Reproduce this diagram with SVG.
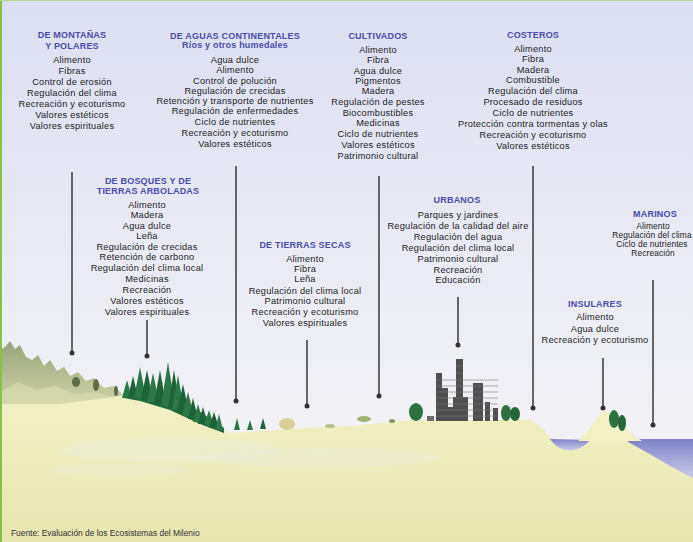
<svg xmlns="http://www.w3.org/2000/svg" width="693" height="542" viewBox="0 0 693 542">
  <defs>
    <linearGradient id="sky" x1="0" y1="0" x2="0" y2="1">
      <stop offset="0" stop-color="#dcdff1"/>
      <stop offset="0.75" stop-color="#f1f1f6"/>
      <stop offset="1" stop-color="#f5f5f6"/>
    </linearGradient>
    <linearGradient id="ground" x1="0" y1="0" x2="0" y2="1">
      <stop offset="0" stop-color="#f3f1c4"/>
      <stop offset="1" stop-color="#e7e6b0"/>
    </linearGradient>
    <linearGradient id="mount" x1="0" y1="0" x2="0" y2="1">
      <stop offset="0" stop-color="#97a37a"/>
      <stop offset="1" stop-color="#d3d6a8"/>
    </linearGradient>
    <linearGradient id="sea" x1="0" y1="0" x2="0" y2="1">
      <stop offset="0" stop-color="#7f82c8"/>
      <stop offset="1" stop-color="#c9cbe8"/>
    </linearGradient>
    <marker id="dot" markerWidth="6" markerHeight="6" refX="3" refY="3" markerUnits="userSpaceOnUse">
      <circle cx="3" cy="3" r="2.5" fill="#333"/>
    </marker>
    <style>
      text { font-family: "Liberation Sans", Arial, sans-serif; text-anchor: middle; }
      .t { font-size: 9px; font-weight: bold; fill: #4b4ca8; letter-spacing: 0.2px; }
      .s { font-size: 9px; font-weight: bold; fill: #4b4ca8; letter-spacing: 0.2px; }
      .i { font-size: 9.2px; fill: #1c1c1c; letter-spacing: 0.25px; }
      .m { font-size: 8.4px; fill: #1c1c1c; letter-spacing: 0.1px; }
      .cap { font-size: 8.4px; fill: #333; text-anchor: start; }
      .link { stroke: #383838; stroke-width: 1.5; fill: none; marker-end: url(#dot); }
      .pine { fill: #2b7748; }
      .pine2 { fill: #1d6238; }
      .bld { fill: #4f4f4f; }
    </style>
  </defs>

  <!-- sky -->
  <rect x="0" y="0" width="693" height="542" fill="url(#sky)"/>

  <!-- landscape -->
  <g id="landscape">
    <path d="M0,400 L0,350 L5,347 L10,341 L15,349 L20,345 L26,357 L32,360 L38,355 L44,366 L50,360 L57,371 L64,367 L70,376 L78,372 L86,381 L94,378 L104,388 L114,386 L124,396 L132,404 L0,408 Z" fill="url(#mount)"/>
    <path d="M0,408 L0,392 L18,382 L36,390 L55,386 L75,394 L95,392 L115,398 L132,404 L120,412 L0,414 Z" fill="#d6d9ad" opacity="0.8"/>
    <ellipse cx="76" cy="382" rx="4" ry="5" fill="#5f6c48"/>
    <ellipse cx="96" cy="385" rx="3" ry="6" fill="#5f6c48"/>
    <ellipse cx="116" cy="391" rx="2" ry="5" fill="#5f6c48"/>

    <path d="M0,404 L60,404 L120,396 C135,390 150,392 165,400 C185,410 205,425 232,433 C260,431 300,428 350,426 C375,424 395,421 410,420 L530,420 C540,424 546,432 553,440 L693,440 L693,542 L0,542 Z" fill="url(#ground)"/>
    <!-- pale reflections on the plain -->
    <ellipse cx="170" cy="450" rx="110" ry="12" fill="#e9eedc" opacity="0.45"/>
    <ellipse cx="320" cy="458" rx="120" ry="10" fill="#e9eedc" opacity="0.4"/>
    <ellipse cx="120" cy="470" rx="70" ry="6" fill="#e9eedc" opacity="0.35"/>

    <!-- forest -->
    <path d="M124,398 L140,391 L170,398 L200,412 L224,428 L224,433 L200,424 L170,410 L140,401 Z" fill="#236b3f"/>
    <g>
      <polygon class="pine" points="127,380 132,398 122,398"/>
      <polygon class="pine2" points="133,376 138,397 128,397"/>
      <polygon class="pine" points="140,367 146,398 134,398"/>
      <polygon class="pine2" points="147,370 153,400 141,400"/>
      <polygon class="pine" points="153,373 159,402 147,402"/>
      <polygon class="pine2" points="160,370 166,404 154,404"/>
      <polygon class="pine" points="168,362 175,406 161,406"/>
      <polygon class="pine2" points="174,370 180,408 168,408"/>
      <polygon class="pine" points="178,375 184,410 172,410"/>
      <polygon class="pine2" points="183,384 189,413 177,413"/>
      <polygon class="pine" points="188,392 194,416 182,416"/>
      <polygon class="pine2" points="193,398 198,419 188,419"/>
      <polygon class="pine" points="198,404 203,422 193,422"/>
      <polygon class="pine2" points="203,407 208,424 198,424"/>
      <polygon class="pine" points="209,410 214,426 204,426"/>
      <polygon class="pine2" points="214,412 219,428 209,428"/>
      <polygon class="pine" points="219,414 223,430 215,430"/>
    </g>
    <!-- scattered plants on the dry plain -->
    <polygon class="pine" points="237,418 240,430 234,430"/>
    <polygon class="pine" points="250,420 253,430 247,430"/>
    <polygon class="pine2" points="263,418 266,429 260,429"/>
    <ellipse cx="287" cy="424" rx="8" ry="6" fill="#d8cf98"/>
    <ellipse cx="330" cy="426" rx="5" ry="2" fill="#b7c28a"/>
    <ellipse cx="364" cy="419" rx="7" ry="3" fill="#9fb276"/>
    <ellipse cx="392" cy="421" rx="3" ry="2" fill="#8a9a6a"/>

    <!-- city -->
    <g id="city">
      <ellipse cx="416" cy="412" rx="7" ry="9" fill="#2f7040"/>
      <rect x="427" y="416" width="7" height="5" fill="#6a6a6a"/>
      <rect class="bld" x="436" y="373" width="6" height="48"/>
      <rect class="bld" x="441" y="388" width="7" height="33"/>
      <rect class="bld" x="448" y="407" width="8" height="14"/>
      <rect class="bld" x="453" y="397" width="15" height="24"/>
      <rect class="bld" x="456" y="359" width="7" height="62"/>
      <rect class="bld" x="473" y="383" width="10" height="38"/>
      <rect class="bld" x="485" y="402" width="5" height="19"/>
      <rect class="bld" x="493" y="408" width="5" height="13"/>
      <g stroke="#7a7a7a" stroke-width="0.6">
        <line x1="436" y1="380" x2="498" y2="380"/>
        <line x1="436" y1="386" x2="498" y2="386"/>
        <line x1="436" y1="392" x2="498" y2="392"/>
        <line x1="436" y1="398" x2="498" y2="398"/>
        <line x1="436" y1="404" x2="498" y2="404"/>
        <line x1="436" y1="410" x2="498" y2="410"/>
        <line x1="436" y1="416" x2="498" y2="416"/>
        <line x1="456" y1="366" x2="463" y2="366"/>
        <line x1="456" y1="373" x2="463" y2="373"/>
      </g>
      <ellipse cx="506" cy="413" rx="5" ry="8" fill="#2f7040"/>
      <ellipse cx="515" cy="414" rx="5" ry="7" fill="#27663a"/>
    </g>

    <!-- bay, island and open sea -->
    <path d="M550,439 C560,454 578,454 590,440 Z" fill="url(#sea)"/>
    <path d="M628,439 L693,439 L693,478 C668,466 648,452 628,442 Z" fill="url(#sea)"/>
    <path d="M578,441 C590,432 597,414 605,411 C613,412 624,430 642,441 Z" fill="#f3f1c4"/>
    <ellipse cx="614" cy="419" rx="5" ry="9" fill="#2f7040"/>
    <ellipse cx="622" cy="423" rx="4" ry="8" fill="#27663a"/>
  </g>

  <!-- frame -->
  <line x1="1" y1="0" x2="1" y2="542" stroke="#86c24a" stroke-width="2"/>
  <line x1="0" y1="0.5" x2="693" y2="0.5" stroke="#b5d98e" stroke-width="1"/>

  <!-- connectors -->
  <g id="connectors">
    <line class="link" x1="72" y1="172" x2="72" y2="353"/>
    <line class="link" x1="147" y1="320" x2="147" y2="356"/>
    <line class="link" x1="236" y1="166" x2="236" y2="401"/>
    <line class="link" x1="307" y1="340" x2="307" y2="406"/>
    <line class="link" x1="379" y1="176" x2="379" y2="396"/>
    <line class="link" x1="458" y1="297" x2="458" y2="345"/>
    <line class="link" x1="533" y1="166" x2="533" y2="408"/>
    <line class="link" x1="603" y1="358" x2="603" y2="408"/>
    <line class="link" x1="653" y1="280" x2="653" y2="425"/>
  </g>

  <!-- ecosystems -->
  <g id="montanas">
    <text class="t" x="72" y="38">DE MONTAÑAS</text>
    <text class="t" x="72" y="49">Y POLARES</text>
    <text class="i" x="72" y="63">Alimento</text>
    <text class="i" x="72" y="74">Fibras</text>
    <text class="i" x="72" y="85">Control de erosión</text>
    <text class="i" x="72" y="96">Regulación del clima</text>
    <text class="i" x="72" y="107">Recreación y ecoturismo</text>
    <text class="i" x="72" y="118">Valores estéticos</text>
    <text class="i" x="72" y="129">Valores espirituales</text>
  </g>

  <g id="aguas">
    <text class="t" x="235" y="39">DE AGUAS CONTINENTALES</text>
    <text class="s" x="235" y="48">Ríos y otros humedales</text>
    <text class="i" x="235" y="63">Agua dulce</text>
    <text class="i" x="235" y="73">Alimento</text>
    <text class="i" x="235" y="84">Control de polución</text>
    <text class="i" x="235" y="94">Regulación de crecidas</text>
    <text class="i" x="235" y="104">Retención y transporte de nutrientes</text>
    <text class="i" x="235" y="114">Regulación de enfermedades</text>
    <text class="i" x="235" y="125">Ciclo de nutrientes</text>
    <text class="i" x="235" y="136">Recreación y ecoturismo</text>
    <text class="i" x="235" y="147">Valores estéticos</text>
  </g>

  <g id="cultivados">
    <text class="t" x="378" y="39">CULTIVADOS</text>
    <text class="i" x="378" y="53">Alimento</text>
    <text class="i" x="378" y="63">Fibra</text>
    <text class="i" x="378" y="74">Agua dulce</text>
    <text class="i" x="378" y="84">Pigmentos</text>
    <text class="i" x="378" y="94">Madera</text>
    <text class="i" x="378" y="105">Regulación de pestes</text>
    <text class="i" x="378" y="116">Biocombustibles</text>
    <text class="i" x="378" y="126">Medicinas</text>
    <text class="i" x="378" y="137">Ciclo de nutrientes</text>
    <text class="i" x="378" y="148">Valores estéticos</text>
    <text class="i" x="378" y="159">Patrimonio cultural</text>
  </g>

  <g id="costeros">
    <text class="t" x="533" y="38">COSTEROS</text>
    <text class="i" x="533" y="52">Alimento</text>
    <text class="i" x="533" y="62">Fibra</text>
    <text class="i" x="533" y="73">Madera</text>
    <text class="i" x="533" y="83">Combustible</text>
    <text class="i" x="533" y="94">Regulación del clima</text>
    <text class="i" x="533" y="105">Procesado de residuos</text>
    <text class="i" x="533" y="116">Ciclo de nutrientes</text>
    <text class="i" x="533" y="127">Protección contra tormentas y olas</text>
    <text class="i" x="533" y="138">Recreación y ecoturismo</text>
    <text class="i" x="533" y="149">Valores estéticos</text>
  </g>

  <g id="bosques">
    <text class="t" x="148" y="184">DE BOSQUES Y DE</text>
    <text class="t" x="148" y="194">TIERRAS ARBOLADAS</text>
    <text class="i" x="147" y="208">Alimento</text>
    <text class="i" x="147" y="218">Madera</text>
    <text class="i" x="147" y="229">Agua dulce</text>
    <text class="i" x="147" y="239">Leña</text>
    <text class="i" x="147" y="250">Regulación de crecidas</text>
    <text class="i" x="147" y="260">Retención de carbono</text>
    <text class="i" x="147" y="271">Regulación del clima local</text>
    <text class="i" x="147" y="282">Medicinas</text>
    <text class="i" x="147" y="293">Recreación</text>
    <text class="i" x="147" y="304">Valores estéticos</text>
    <text class="i" x="147" y="315">Valores espirituales</text>
  </g>

  <g id="tierras-secas">
    <text class="t" x="305" y="248">DE TIERRAS SECAS</text>
    <text class="i" x="305" y="262">Alimento</text>
    <text class="i" x="305" y="272">Fibra</text>
    <text class="i" x="305" y="282">Leña</text>
    <text class="i" x="305" y="294">Regulación del clima local</text>
    <text class="i" x="305" y="304">Patrimonio cultural</text>
    <text class="i" x="305" y="315">Recreación y ecoturismo</text>
    <text class="i" x="305" y="326">Valores espirituales</text>
  </g>

  <g id="urbanos">
    <text class="t" x="457" y="203">URBANOS</text>
    <text class="i" x="458" y="218">Parques y jardines</text>
    <text class="i" x="458" y="229">Regulación de la calidad del aire</text>
    <text class="i" x="458" y="240">Regulación del agua</text>
    <text class="i" x="458" y="251">Regulación del clima local</text>
    <text class="i" x="458" y="262">Patrimonio cultural</text>
    <text class="i" x="458" y="273">Recreación</text>
    <text class="i" x="458" y="283">Educación</text>
  </g>

  <g id="marinos">
    <text class="t" x="655" y="217">MARINOS</text>
    <text class="m" x="653" y="229">Alimento</text>
    <text class="m" x="652" y="238">Regulación del clima</text>
    <text class="m" x="652" y="247">Ciclo de nutrientes</text>
    <text class="m" x="653" y="256">Recreación</text>
  </g>

  <g id="insulares">
    <text class="t" x="595" y="307">INSULARES</text>
    <text class="i" x="595" y="320">Alimento</text>
    <text class="i" x="595" y="332">Agua dulce</text>
    <text class="i" x="595" y="343">Recreación y ecoturismo</text>
  </g>

  <text class="cap" x="11" y="536">Fuente: Evaluación de los Ecosistemas del Milenio</text>
</svg>
